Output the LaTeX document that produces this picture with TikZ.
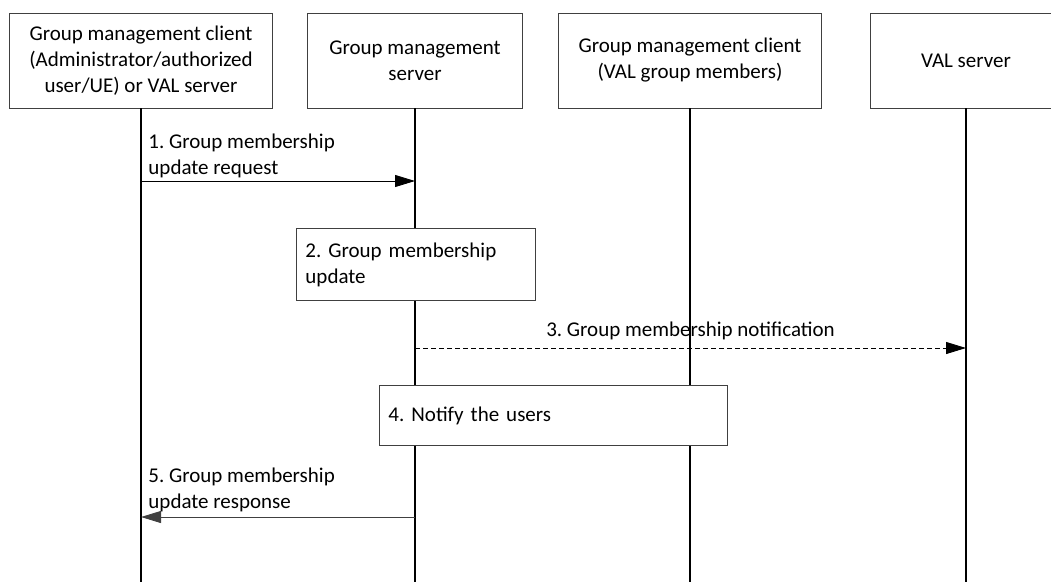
\documentclass[tikz,border=0pt]{standalone}
\usepackage{fontspec}
\setmainfont{Carlito}
\usetikzlibrary{arrows.meta, positioning}

\begin{document}
\begin{tikzpicture}[
    x=1pt, y=-1pt,
    line join=miter,
    every node/.style = {font=\fontsize{21}{26}\selectfont\frenchspacing},
    attore/.style     = {draw=black!75, line width=0.9pt, minimum height=95pt, align=center, inner sep=0pt},
    vita/.style       = {line width=1.6pt},
    passo/.style      = {draw=black!75, line width=0.9pt, fill=white, anchor=north west, align=left, inner xsep=9pt, inner ysep=0pt},
    messaggio/.style  = {line width=0.9pt, -{Triangle[length=20pt,width=12pt]}},
    risposta/.style   = {messaggio, draw=black!75, fill=black!75},
    etichetta/.style  = {align=left, inner sep=0pt}
]

\useasboundingbox (0,0) rectangle (1051,582);

% ---- entita' ----
\node[attore, minimum width=263pt] (gmc) at (141,60.5) {Group management client\\(Administrator/authorized\\user/UE) or VAL server};
\node[attore, minimum width=215pt] (gms) at (415,60.5) {Group management\\server};
\node[attore, minimum width=263pt] (mem) at (690,60.5) {Group management client\\(VAL group members)};
\node[attore, minimum width=192pt] (val) at (966,60.5) {VAL server};

% ---- linee di vita ----
\coordinate (fondo) at (0,582);
\foreach \e in {gmc,gms,mem,val}{
    \draw[vita] (\e.south) -- (\e.south |- fondo);
}

% ---- 1. richiesta ----
\draw[messaggio] (gmc.south |- 0,181) -- (gms.south |- 0,181)
    node[pos=0, etichetta, anchor=south west, xshift=7pt, yshift=3pt] {1. Group membership\\update request};

% ---- 2. aggiornamento ----
\node[passo, minimum width=239pt, minimum height=72pt, text width=221pt] (agg) at (296,228) {2. Group membership\\update};

% ---- 3. notifica ----
\draw[messaggio, dash pattern=on 5pt off 3pt] (gms.south |- 0,348) -- (val.south |- 0,348)
    node[midway, etichetta, anchor=south, yshift=8pt] {3. Group membership notification};

% ---- 4. notifica agli utenti ----
\node[passo, minimum width=348pt, minimum height=60pt, text width=330pt] (notif) at (379,385) {4. Notify the users};

% ---- 5. risposta ----
\draw[risposta] (gms.south |- 0,517) -- (gmc.south |- 0,517)
    node[pos=1, etichetta, anchor=south west, xshift=7pt, yshift=5pt, text=black] {5. Group membership\\update response};

\end{tikzpicture}
\end{document}
